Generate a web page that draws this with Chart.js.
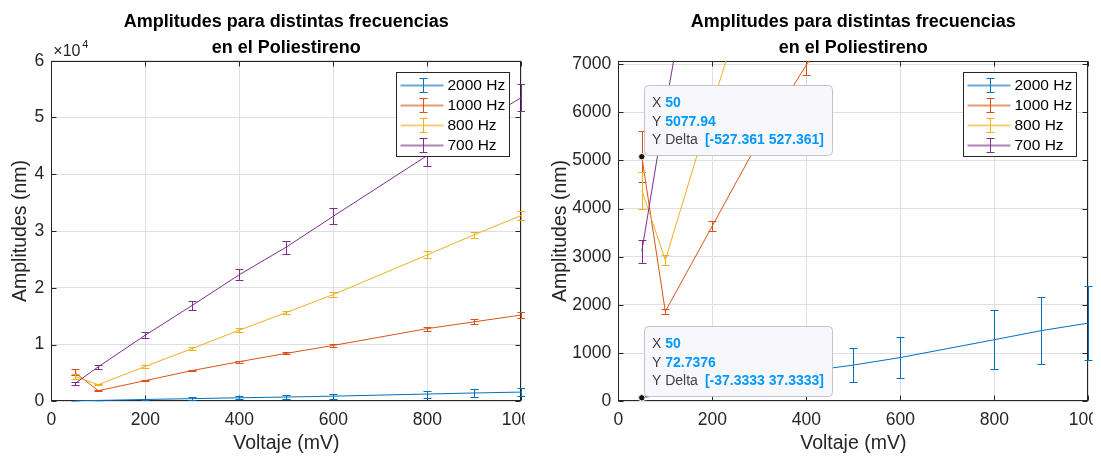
<!DOCTYPE html>
<html>
<head>
<meta charset="utf-8">
<script src="https://cdn.jsdelivr.net/npm/chart.js@4/dist/chart.umd.min.js"></script>
<style>
  html, body { margin: 0; padding: 0; background: #ffffff; }
  #wrap { position: relative; width: 1101px; height: 457px; overflow: hidden; background: #ffffff; }
  .pane { position: absolute; top: 0; height: 457px; overflow: hidden; }
  canvas { display: block; }
</style>
</head>
<body>
<div id="wrap">
  <div class="pane" style="left:0;width:525px"><canvas id="cLeft" width="525" height="457"></canvas></div>
  <div class="pane" style="left:545px;width:548px"><canvas id="cRight" width="548" height="457"></canvas></div>
</div>
<script>
// ---- measured amplitudes (nm) vs. applied voltage (mV) ----
const voltage = [50, 100, 200, 300, 400, 500, 600, 800, 900, 1000];

const amp2000 = [72.7376, 150, 320, 470, 620, 752, 908, 1278, 1467, 1623];
const err2000 = [37.3333, 40, 150, 220, 290, 360, 430, 610, 700, 773];

const amp1000 = [5077.94, 1865, 3640, 5420, 6980, 8440, 9840, 12800, 14000, 15200];
const err1000 = [527.361, 55, 95, 110, 200, 180, 260, 350, 470, 590];

const amp800 = [4380, 2930, 6150, 9300, 12530, 15640, 18800, 25800, 29350, 32740];
const err800 = [380, 100, 290, 260, 350, 300, 500, 590, 500, 820];

const amp700 = [3112, 6080, 11650, 16900, 22300, 27170, 32600, 43300, 48500, 53500];
const err700 = [231, 400, 550, 820, 1000, 1150, 1430, 1800, 2100, 2400];

const seriesNames = ['2000 Hz', '1000 Hz', '800 Hz', '700 Hz'];
const seriesColors = ['#0072BD', '#D95319', '#EDB120', '#7E2F8E'];

const xTicks = [0, 200, 400, 600, 800, 1000];
const yTicksLeft = [0, 1, 2, 3, 4, 5, 6];          // in units of 10^4 nm
const yTicksRight = [0, 1000, 2000, 3000, 4000, 5000, 6000, 7000];

const titleLines = ['Amplitudes para distintas frecuencias', 'en el Poliestireno'];
const xLabel = 'Voltaje (mV)';
const yLabel = 'Amplitudes (nm)';

// data tips shown on the zoomed panel: [dataset index, point index]
const dataTips = [[1, 0], [0, 0]];

const FONT = '"Liberation Sans", Arial, Helvetica, sans-serif';
const AXIS = '#262626';
const GRID = '#dfdfdf';

function buildDatasets() {
  const amps = [amp2000, amp1000, amp800, amp700];
  const errs = [err2000, err1000, err800, err700];
  return amps.map((a, k) => ({
    label: seriesNames[k],
    data: voltage.map((v, i) => ({ x: v, y: a[i] })),
    errors: errs[k],
    borderColor: seriesColors[k],
    backgroundColor: seriesColors[k],
    borderWidth: 1,
    pointRadius: 0,
    tension: 0,
    fill: false,
    order: 10 - k
  }));
}

// vertical error bars with caps, drawn right after each series
const errorBars = {
  id: 'errorBars',
  afterDatasetDraw(chart, args) {
    const { ctx, chartArea: ca, scales } = chart;
    const ds = chart.data.datasets[args.index];
    if (!ds.errors) return;
    ctx.save();
    ctx.beginPath();
    ctx.rect(ca.left - 6, ca.top, ca.width + 12, ca.height);
    ctx.clip();
    ctx.strokeStyle = ds.borderColor;
    ctx.lineWidth = 1;
    ds.data.forEach((p, i) => {
      const e = ds.errors[i];
      const px = Math.round(scales.x.getPixelForValue(p.x)) + 0.5;
      const y1 = Math.round(scales.y.getPixelForValue(p.y - e)) + 0.5;
      const y2 = Math.round(scales.y.getPixelForValue(p.y + e)) + 0.5;
      ctx.beginPath();
      ctx.moveTo(px, y1); ctx.lineTo(px, y2);
      ctx.moveTo(px - 4, y1); ctx.lineTo(px + 4, y1);
      ctx.moveTo(px - 4, y2); ctx.lineTo(px + 4, y2);
      ctx.stroke();
    });
    ctx.restore();
  }
};

// axes box with inward tick marks on all four sides
const axesBox = {
  id: 'axesBox',
  beforeDatasetsDraw(chart) {
    const { ctx, chartArea: ca, scales } = chart;
    const L = Math.round(ca.left) + 0.5, R = Math.round(ca.right) - 0.5;
    const T = Math.round(ca.top) + 0.5, B = Math.round(ca.bottom) - 0.5;
    ctx.save();
    ctx.strokeStyle = AXIS;
    ctx.lineWidth = 1;
    ctx.strokeRect(L, T, R - L, B - T);
    ctx.beginPath();
    scales.x.ticks.forEach(t => {
      const px = Math.round(scales.x.getPixelForValue(t.value)) + 0.5;
      ctx.moveTo(px, B); ctx.lineTo(px, B - 5);
      ctx.moveTo(px, T); ctx.lineTo(px, T + 5);
    });
    scales.y.ticks.forEach(t => {
      const py = Math.round(scales.y.getPixelForValue(t.value)) + 0.5;
      ctx.moveTo(L, py); ctx.lineTo(L + 5, py);
      ctx.moveTo(R, py); ctx.lineTo(R - 5, py);
    });
    ctx.stroke();
    ctx.restore();
  }
};

// title, axis labels, legend and optional exponent / data tips
function decorations(opts) {
  return {
    id: 'decorations',
    afterDraw(chart) {
      const { ctx, chartArea: ca, scales } = chart;
      const cx = (ca.left + ca.right) / 2;
      ctx.save();

      // title
      ctx.fillStyle = '#000000';
      ctx.font = 'bold 18px ' + FONT;
      ctx.textAlign = 'center';
      ctx.textBaseline = 'alphabetic';
      ctx.fillText(titleLines[0], cx, 26.5);
      ctx.fillText(titleLines[1], cx, 52.5);

      // axis labels
      ctx.fillStyle = AXIS;
      ctx.font = '19.5px ' + FONT;
      ctx.fillText(xLabel, cx, 449);
      ctx.save();
      ctx.translate(opts.yLabelX, (ca.top + ca.bottom) / 2);
      ctx.rotate(-Math.PI / 2);
      ctx.fillText(yLabel, 0, 0);
      ctx.restore();

      // exponent marker
      if (opts.exponent) {
        ctx.textAlign = 'left';
        ctx.font = '16px ' + FONT;
        ctx.fillText('\u00d710', ca.left + 2, 56);
        ctx.font = '11px ' + FONT;
        ctx.fillText(opts.exponent, ca.left + 31, 47.5);
      }

      // legend
      const lw = 113, lh = 84;
      const lx = Math.round(ca.right - 12.3 - lw) + 0.5;
      const ly = Math.round(ca.top + 11.3) + 0.5;
      ctx.fillStyle = '#ffffff';
      ctx.fillRect(lx, ly, lw, lh);
      ctx.strokeStyle = AXIS;
      ctx.lineWidth = 1;
      ctx.strokeRect(lx, ly, lw, lh);
      chart.data.datasets.forEach((ds, i) => {
        const ry = Math.round(ly + 12 + i * 20) + 0.5;
        const gx = Math.round(lx + 26) + 0.5;
        ctx.save();
        ctx.globalAlpha = 0.6;
        ctx.strokeStyle = ds.borderColor;
        ctx.lineWidth = 2;
        ctx.beginPath();
        ctx.moveTo(lx + 4, ry); ctx.lineTo(lx + 47, ry);
        ctx.stroke();
        ctx.restore();
        ctx.strokeStyle = ds.borderColor;
        ctx.lineWidth = 1;
        ctx.beginPath();
        ctx.moveTo(gx, ry - 7); ctx.lineTo(gx, ry + 7);
        ctx.moveTo(gx - 4, ry - 7); ctx.lineTo(gx + 4, ry - 7);
        ctx.moveTo(gx - 4, ry + 7); ctx.lineTo(gx + 4, ry + 7);
        ctx.stroke();
        ctx.fillStyle = '#000000';
        ctx.font = '15.5px ' + FONT;
        ctx.textAlign = 'left';
        ctx.textBaseline = 'middle';
        ctx.fillText(ds.label, lx + 51, ry + 0.5);
      });

      // data tips
      (opts.tips || []).forEach(([d, i]) => {
        const ds = chart.data.datasets[d];
        const p = ds.data[i];
        const e = ds.errors[i];
        const px = scales.x.getPixelForValue(p.x);
        const py = scales.y.getPixelForValue(p.y);
        const w = 188, h = 70;
        const bx = Math.round(px + 2.5) + 0.5;
        const by = Math.round(py - 1.5 - h) + 0.5;
        ctx.beginPath();
        ctx.roundRect(bx, by, w, h, 4);
        ctx.fillStyle = '#f8f8fc';
        ctx.fill();
        ctx.strokeStyle = '#c4c4c8';
        ctx.lineWidth = 1;
        ctx.stroke();

        const rows = [by + 17.3, by + 36.7, by + 55];
        ctx.textBaseline = 'middle';
        ctx.textAlign = 'left';
        ctx.font = '14px ' + FONT;
        ctx.fillStyle = '#404040';
        ctx.fillText('X', bx + 7.5, rows[0]);
        ctx.fillText('Y', bx + 7.5, rows[1]);
        ctx.fillText('Y Delta', bx + 7.5, rows[2]);
        ctx.font = 'bold 14px ' + FONT;
        ctx.fillStyle = '#0099ff';
        ctx.fillText(String(p.x), bx + 20.7, rows[0]);
        ctx.fillText(String(p.y), bx + 20.7, rows[1]);
        ctx.textAlign = 'right';
        ctx.fillText('[-' + e + ' ' + e + ']', bx + w - 8.5, rows[2]);

        ctx.beginPath();
        ctx.arc(px, py, 3.2, 0, Math.PI * 2);
        ctx.fillStyle = '#111111';
        ctx.fill();
        ctx.strokeStyle = '#fffbd0';
        ctx.lineWidth = 1;
        ctx.stroke();
      });

      ctx.restore();
    }
  };
}

function makeChart(id, cfg) {
  const tickFont = { family: FONT, size: 17.5 };
  return new Chart(document.getElementById(id), {
    type: 'line',
    data: { datasets: buildDatasets() },
    options: {
      responsive: false,
      animation: false,
      events: [],
      layout: { padding: { left: 0, bottom: 0, top: cfg.top, right: cfg.right } },
      plugins: { legend: { display: false }, tooltip: { enabled: false }, title: { display: false } },
      scales: {
        x: {
          type: 'linear', min: 0, max: 1000,
          afterBuildTicks: s => { s.ticks = xTicks.map(v => ({ value: v })); },
          afterFit: s => { s.height = cfg.xAxisH; s.paddingLeft = 0; s.paddingRight = 0; },
          ticks: { padding: 8, color: AXIS, font: tickFont, maxRotation: 0, autoSkip: false,
                   callback: v => String(v) },
          grid: { color: GRID, lineWidth: 1, drawTicks: false },
          border: { display: false }
        },
        y: {
          type: 'linear', min: 0, max: cfg.yMax,
          afterBuildTicks: s => { s.ticks = cfg.yTicks.map(v => ({ value: v * cfg.yUnit })); },
          afterFit: s => { s.width = cfg.yAxisW; s.paddingTop = 0; s.paddingBottom = 0; },
          ticks: { padding: 7, color: AXIS, font: tickFont, autoSkip: false,
                   callback: v => String(v / cfg.yUnit) },
          grid: { color: GRID, lineWidth: 1, drawTicks: false },
          border: { display: false }
        }
      }
    },
    plugins: [axesBox, errorBars, decorations(cfg.deco)]
  });
}

makeChart('cLeft', {
  yAxisW: 51.3, xAxisH: 55.7, top: 60.7, right: 3.7,
  yMax: 60000, yTicks: yTicksLeft, yUnit: 10000,
  deco: { yLabelX: 25.7, exponent: '4' }
});

makeChart('cRight', {
  yAxisW: 73.3, xAxisH: 55.7, top: 60.7, right: 4.7,
  yMax: 7070, yTicks: yTicksRight, yUnit: 1,
  deco: { yLabelX: 20.7, tips: dataTips }
});
</script>
</body>
</html>
